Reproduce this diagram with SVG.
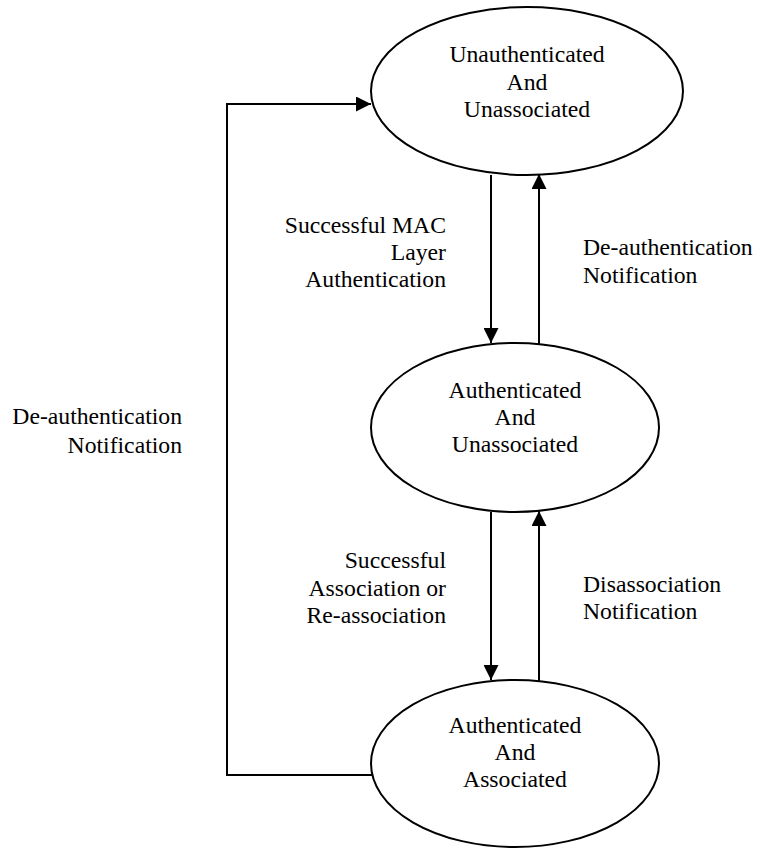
<svg xmlns="http://www.w3.org/2000/svg" width="757" height="848" viewBox="0 0 757 848">
  <style>
    .state { fill: #ffffff; stroke: #000000; stroke-width: 2; }
    .edge { fill: none; stroke: #000000; stroke-width: 2; }
    text { font-family: "Liberation Serif", "Times New Roman", serif; font-size: 23.7px; fill: #000000; }
    .mid { text-anchor: middle; }
    .end { text-anchor: end; }
  </style>
  <defs>
    <marker id="arrow" viewBox="0 0 10 10" refX="10" refY="5" markerWidth="15" markerHeight="15" markerUnits="userSpaceOnUse" orient="auto">
      <path d="M0,0 L10,5 L0,10 Z" fill="#000000"/>
    </marker>
  </defs>
  <rect width="757" height="848" fill="#ffffff"/>

  <!-- state: unauthenticated and unassociated -->
  <g id="state-unauth-unassoc">
    <ellipse class="state" cx="527" cy="91" rx="156" ry="84"/>
    <text class="mid" x="527" y="62">Unauthenticated</text>
    <text class="mid" x="527" y="90">And</text>
    <text class="mid" x="527" y="117">Unassociated</text>
  </g>

  <!-- state: authenticated and unassociated -->
  <g id="state-auth-unassoc">
    <ellipse class="state" cx="515" cy="427.5" rx="144" ry="84.5"/>
    <text class="mid" x="515" y="398">Authenticated</text>
    <text class="mid" x="515" y="425">And</text>
    <text class="mid" x="515" y="452">Unassociated</text>
  </g>

  <!-- state: authenticated and associated -->
  <g id="state-auth-assoc">
    <ellipse class="state" cx="515" cy="763.5" rx="144" ry="83.5"/>
    <text class="mid" x="515" y="733">Authenticated</text>
    <text class="mid" x="515" y="760">And</text>
    <text class="mid" x="515" y="787">Associated</text>
  </g>

  <!-- transitions -->
  <g id="connectors">
    <line class="edge" x1="491" y1="175" x2="491" y2="343" marker-end="url(#arrow)"/>
    <line class="edge" x1="539" y1="345" x2="539" y2="174" marker-end="url(#arrow)"/>
    <line class="edge" x1="491" y1="512" x2="491" y2="680" marker-end="url(#arrow)"/>
    <line class="edge" x1="539" y1="682" x2="539" y2="511" marker-end="url(#arrow)"/>
    <polyline class="edge" points="372,775 227,775 227,104 371,104" marker-end="url(#arrow)"/>
  </g>

  <!-- transition labels -->
  <g id="labels">
    <text class="end" x="446" y="233">Successful MAC</text>
    <text class="end" x="446" y="260">Layer</text>
    <text class="end" x="446" y="287">Authentication</text>

    <text x="583" y="255">De-authentication</text>
    <text x="583" y="283">Notification</text>

    <text class="end" x="182" y="424">De-authentication</text>
    <text class="end" x="182" y="453">Notification</text>

    <text class="end" x="446" y="568">Successful</text>
    <text class="end" x="446" y="596">Association or</text>
    <text class="end" x="446" y="623">Re-association</text>

    <text x="583" y="592">Disassociation</text>
    <text x="583" y="619">Notification</text>
  </g>
</svg>
